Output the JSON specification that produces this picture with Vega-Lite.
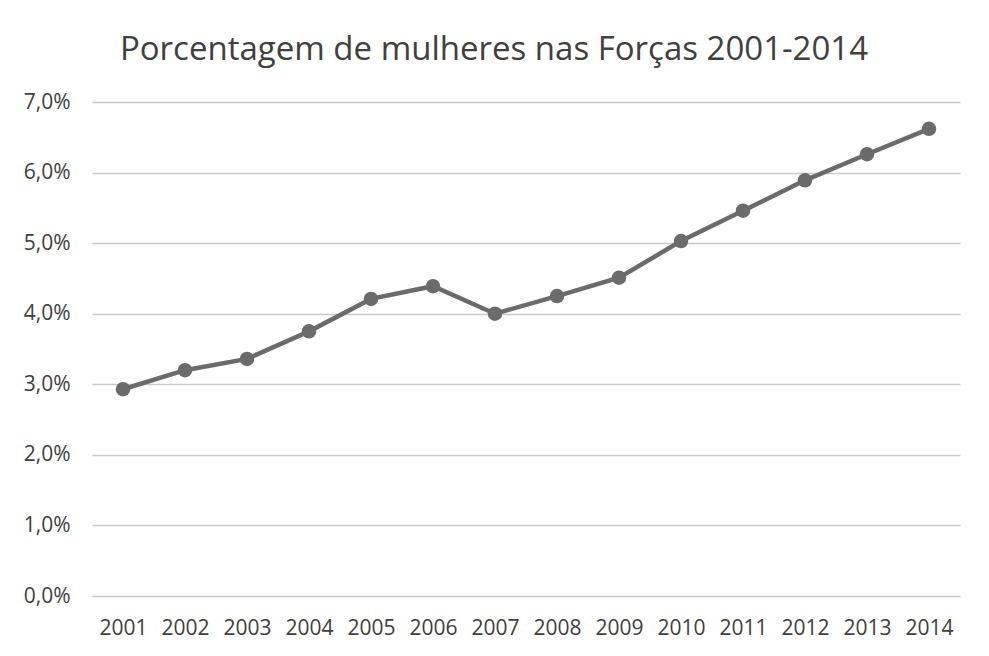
{
  "$schema": "https://vega.github.io/schema/vega-lite/v6.json",
  "autosize": "none",
  "width": 868,
  "height": 494,
  "padding": {"left": 92, "top": 102, "right": 29, "bottom": 60},
  "background": "white",
  "title": {
    "text": "Porcentagem de mulheres nas Forças 2001-2014",
    "font": "Open Sans",
    "fontSize": 33,
    "fontWeight": "normal",
    "color": "#404040",
    "anchor": "middle",
    "dx": -32,
    "offset": 24
  },
  "data": {
    "values": [
      {"ano": "2001", "pct": 0.0293},
      {"ano": "2002", "pct": 0.0320},
      {"ano": "2003", "pct": 0.0336},
      {"ano": "2004", "pct": 0.0375},
      {"ano": "2005", "pct": 0.0421},
      {"ano": "2006", "pct": 0.0439},
      {"ano": "2007", "pct": 0.0400},
      {"ano": "2008", "pct": 0.0425},
      {"ano": "2009", "pct": 0.0451},
      {"ano": "2010", "pct": 0.0503},
      {"ano": "2011", "pct": 0.0546},
      {"ano": "2012", "pct": 0.0589},
      {"ano": "2013", "pct": 0.0626},
      {"ano": "2014", "pct": 0.0662}
    ]
  },
  "config": {
    "view": {"stroke": null},
    "axis": {
      "labelFont": "Open Sans",
      "labelFontSize": 21,
      "labelColor": "#404040",
      "ticks": false,
      "title": null
    }
  },
  "encoding": {
    "x": {
      "field": "ano",
      "type": "ordinal",
      "scale": {"paddingInner": 0, "paddingOuter": 0.5},
      "axis": {"labelAngle": 0, "labelPadding": 21, "domain": false, "grid": false}
    },
    "y": {
      "field": "pct",
      "type": "quantitative",
      "scale": {"domain": [0, 0.07], "nice": false},
      "axis": {
        "values": [0, 0.01, 0.02, 0.03, 0.04, 0.05, 0.06, 0.07],
        "labelExpr": "replace(format(datum.value * 100, '.1f'), '.', ',') + '%'",
        "labelPadding": 22,
        "domain": false,
        "grid": true,
        "gridColor": "#c9c9c9",
        "gridWidth": 1.5
      }
    }
  },
  "layer": [
    {"mark": {"type": "line", "color": "#6b6b6b", "strokeWidth": 4.5}},
    {"mark": {"type": "point", "filled": true, "color": "#6b6b6b", "opacity": 1, "size": 210}}
  ]
}
